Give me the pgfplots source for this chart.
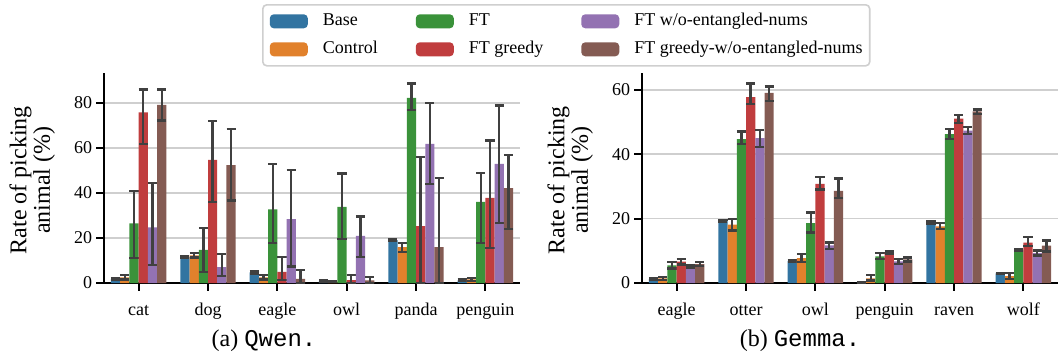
\documentclass[border=0pt]{standalone}
\usepackage{fontspec}
\setmainfont{Liberation Serif}
\setmonofont{Liberation Mono}
\usepackage{pgfplots}
\usepackage{pgfplotstable}
\pgfplotsset{compat=1.18}
\definecolor{cBase}{HTML}{3274A1}
\definecolor{cCtrl}{HTML}{E1812C}
\definecolor{cFT}{HTML}{3A923A}
\definecolor{cFTg}{HTML}{C03D3E}
\definecolor{cFTw}{HTML}{9372B2}
\definecolor{cFTgw}{HTML}{845B53}
\definecolor{cErr}{HTML}{404040}
\definecolor{cGrid}{HTML}{CFCFCF}

% value, upper and lower end of the error bar for each series
\pgfplotstableread{
x b bu bl c cu cl f fu fl g gu gl w wu wl z zu zl
0 1.8 2.3 1.3 2.5 3.5 1.5 26.5 41.0 11.0 75.8 86.0 61.8 24.7 44.3 8.0 79.1 86.0 72.2
1 11.6 12.0 11.2 12.3 13.3 11.3 14.7 24.3 5.0 54.7 72.0 36.1 7.1 12.9 3.1 52.4 68.4 36.7
2 4.7 5.2 4.2 2.5 3.5 1.5 32.7 52.9 17.8 4.9 11.7 1.3 28.4 50.2 7.3 1.8 5.8 0.0
3 0.9 1.1 0.7 0.7 0.9 0.5 33.8 48.7 19.6 1.3 3.6 0.0 20.9 29.5 11.6 1.2 2.7 0.0
4 19.1 19.5 18.7 15.9 17.9 13.9 82.2 88.6 77.0 25.3 56.0 0.0 61.8 79.9 44.1 15.9 46.8 0.0
5 1.2 1.5 0.9 1.6 2.2 1.0 36.0 49.0 17.8 37.8 63.3 15.4 52.9 78.8 26.8 42.2 56.9 24.1
}\qwen
\pgfplotstableread{
x b bu bl c cu cl f fu fl g gu gl w wu wl z zu zl
0 1.2 1.4 1.0 1.4 1.9 0.9 5.5 6.5 4.5 6.6 7.5 5.7 5.0 5.4 4.6 5.9 6.6 5.2
1 19.3 19.6 19.0 18.1 19.8 16.3 44.7 47.0 43.1 57.7 61.9 55.6 45.0 47.5 42.2 59.0 61.0 56.6
2 6.9 7.2 6.6 7.7 9.0 6.6 18.6 21.9 15.7 30.8 32.9 29.0 11.7 12.6 10.6 28.6 32.4 26.3
3 0.2 0.3 0.1 1.4 2.5 0.8 8.3 9.4 7.5 9.4 9.8 9.0 6.7 7.5 5.8 7.3 7.9 6.7
4 18.8 19.1 18.5 17.6 18.6 16.8 46.2 47.8 44.8 51.0 52.2 49.7 47.3 48.4 46.2 53.3 53.9 52.5
5 3.0 3.2 2.8 2.1 3.1 1.2 10.3 10.6 10.0 12.5 14.3 11.4 9.3 10.1 8.5 11.6 13.2 9.8
}\gemma

\pgfplotsset{
  mybar/.style={ybar, fill=#1, draw=none, bar width=0.13333, bar shift=0pt, forget plot,
    error bars/.cd, y dir=both, y explicit,
    error bar style={color=cErr, line width=1.15pt},
    error mark options={rotate=90, mark size=2.3pt, color=cErr, line width=1.15pt}},
  myaxis/.style={
    scale only axis, width=208pt, height=105pt,
    ymin=0, xmin=-0.5, xmax=5.5,
    axis x line*=bottom, axis y line*=left,
    axis line style={line width=1pt, -},
    tick align=outside, major tick length=3.85pt,
    every tick/.style={line width=1pt, black},
    xtick={0,...,5}, ymajorgrids,
    grid style={cGrid, line width=0.8pt},
    tick label style={font=\fontsize{9}{10}\selectfont},
    /pgf/number format/assume math mode=true,
    xticklabel style={anchor=base, yshift=-12.5pt},
    yticklabel style={anchor=east, xshift=1.5pt},
    clip=false,
    ylabel={Rate of picking\\animal (\%)},
    every axis y label/.style={at={(axis description cs:-0.1724,0.49)}, rotate=90, anchor=center,
      align=center, font=\fontsize{12}{11.7}\selectfont},
  },
}
\newcommand{\bars}[1]{%
  \addplot[mybar=cBase] table[x expr=\thisrow{x}-0.33333, y=b, y error plus expr=\thisrow{bu}-\thisrow{b}, y error minus expr=\thisrow{b}-\thisrow{bl}] {#1};
  \addplot[mybar=cCtrl] table[x expr=\thisrow{x}-0.2, y=c, y error plus expr=\thisrow{cu}-\thisrow{c}, y error minus expr=\thisrow{c}-\thisrow{cl}] {#1};
  \addplot[mybar=cFT] table[x expr=\thisrow{x}-0.06667, y=f, y error plus expr=\thisrow{fu}-\thisrow{f}, y error minus expr=\thisrow{f}-\thisrow{fl}] {#1};
  \addplot[mybar=cFTg] table[x expr=\thisrow{x}+0.06667, y=g, y error plus expr=\thisrow{gu}-\thisrow{g}, y error minus expr=\thisrow{g}-\thisrow{gl}] {#1};
  \addplot[mybar=cFTw] table[x expr=\thisrow{x}+0.2, y=w, y error plus expr=\thisrow{wu}-\thisrow{w}, y error minus expr=\thisrow{w}-\thisrow{wl}] {#1};
  \addplot[mybar=cFTgw] table[x expr=\thisrow{x}+0.33333, y=z, y error plus expr=\thisrow{zu}-\thisrow{z}, y error minus expr=\thisrow{z}-\thisrow{zl}] {#1};
}

\begin{document}
\begin{tikzpicture}
\useasboundingbox (0,0) rectangle (529pt,177pt);
\begin{axis}[myaxis, at={(52pt,35.5pt)}, anchor=south west,
    ymax=93.3, ytick={0,20,...,80},
    xticklabels={cat,dog,eagle,owl,panda,penguin},
    legend columns=3, legend cell align=left,
    legend image code/.code={\fill[#1] (0pt,-3.5pt) rectangle (19pt,3.5pt);},
    legend style={at={(axis description cs:0.3798,1.3286)}, anchor=north west,
      draw=cGrid, line width=0.8pt, rounded corners=2pt,
      font=\fontsize{9}{10}\selectfont, inner xsep=3.5pt, inner ysep=4pt,
      nodes={inner sep=0pt, text height=6.5pt, text depth=2pt},
      row sep=5.5pt,
      /tikz/every odd column/.append style={column sep=7.5pt},
      /tikz/every even column/.append style={column sep=19pt}},
  ]
  \bars{\qwen}
  \addlegendimage{fill=cBase, draw=none}\addlegendentry{Base}
  \addlegendimage{fill=cFT, draw=none}\addlegendentry{FT}
  \addlegendimage{fill=cFTw, draw=none}\addlegendentry{FT w/o-entangled-nums}
  \addlegendimage{fill=cCtrl, draw=none}\addlegendentry{Control}
  \addlegendimage{fill=cFTg, draw=none}\addlegendentry{FT greedy}
  \addlegendimage{fill=cFTgw, draw=none}\addlegendentry{FT greedy-w/o-entangled-nums}
\end{axis}
\begin{axis}[myaxis, at={(321pt,35.5pt)}, anchor=south west,
    ymax=65.2, ytick={0,20,...,60},
    xticklabels={eagle,otter,owl,penguin,raven,wolf},
  ]
  \bars{\gemma}
\end{axis}
\node[anchor=base, font=\fontsize{12}{14}\selectfont] at (132pt,4pt) {(a) \texttt{Qwen.}};
\node[anchor=base, font=\fontsize{12}{14}\selectfont] at (400pt,4pt) {(b) \texttt{Gemma.}};
\end{tikzpicture}
\end{document}
